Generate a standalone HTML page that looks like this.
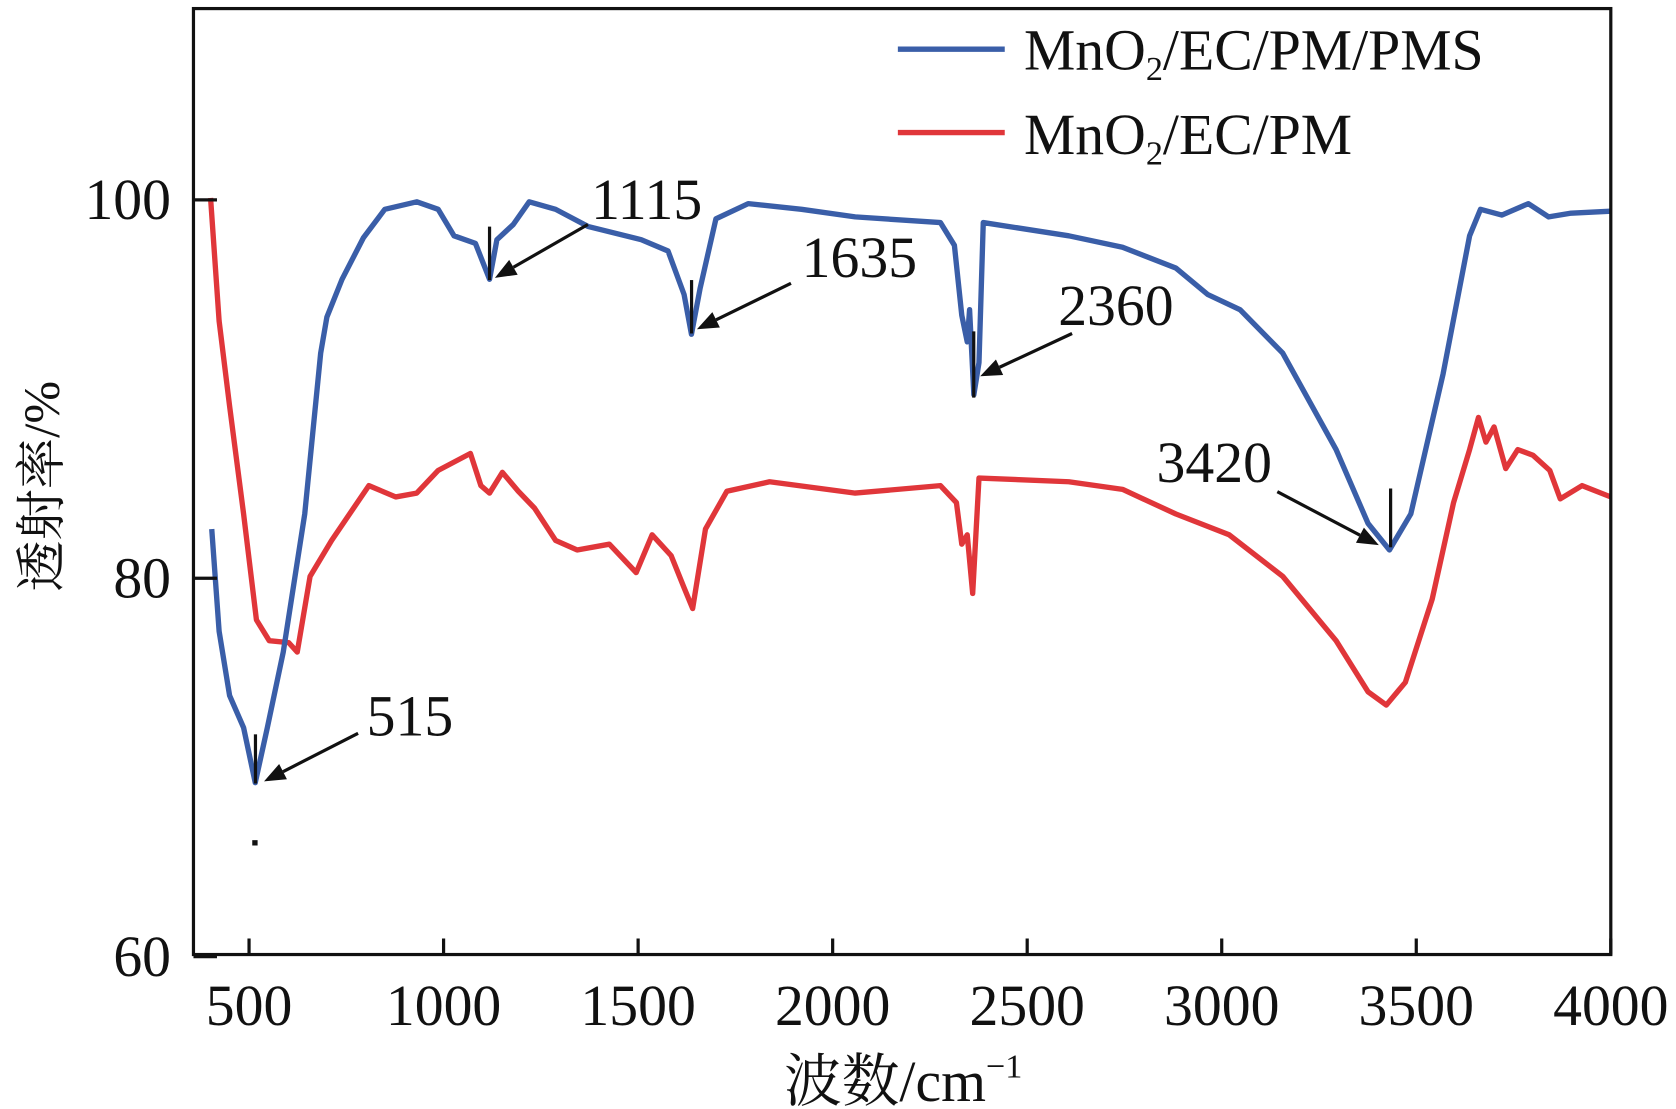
<!DOCTYPE html>
<html><head><meta charset="utf-8"><style>
html,body{margin:0;padding:0;background:#fff;}
svg{display:block;}
text{font-family:"Liberation Serif","Noto Serif CJK SC",serif;fill:#111;}
</style></head><body>
<svg id="chart" width="1676" height="1109" viewBox="0 0 1568 1037.5" xmlns="http://www.w3.org/2000/svg">
<g id="plot"></g>
</svg>
<script>
const xTicks=[500,1000,1500,2000,2500,3000,3500,4000];
const yTicks=[60,80,100];
const blueX=[404,423,450,486,516,547,588,643,684,700,739,794,849,931,986,1027,1082,1118,1137,1179,1220,1288,1371,1508,1577,1618,1637,1659,1700,1783,1920,2058,2277,2313,2332,2346,2352,2363,2376,2387,2607,2745,2882,2964,3047,3157,3294,3376,3431,3486,3569,3637,3665,3720,3788,3840,3898,4000];
const blueY=[82.6,77.2,73.8,72.1,69.2,72.1,76.1,83.4,91.9,93.8,95.8,98.0,99.5,99.9,99.5,98.1,97.7,95.8,97.9,98.7,99.9,99.5,98.6,97.9,97.3,95.0,92.9,95.3,99.0,99.8,99.5,99.1,98.8,97.6,93.9,92.5,94.2,89.7,91.4,98.8,98.1,97.5,96.4,95.0,94.2,91.9,86.8,82.9,81.5,83.4,90.8,98.1,99.5,99.2,99.8,99.1,99.3,99.4];
const redX=[401,423,450,486,519,552,602,624,657,712,808,877,931,986,1069,1096,1118,1151,1192,1234,1288,1343,1426,1495,1536,1585,1618,1640,1673,1728,1838,2058,2277,2318,2332,2346,2360,2376,2607,2745,2882,3019,3157,3294,3376,3423,3472,3541,3596,3637,3660,3679,3700,3730,3761,3800,3843,3870,3926,4000];
const redY=[100.1,93.6,89.1,83.4,77.8,76.7,76.6,76.1,80.1,82.0,84.9,84.3,84.5,85.7,86.6,84.9,84.5,85.6,84.6,83.7,82.0,81.5,81.8,80.3,82.3,81.2,79.5,78.4,82.6,84.6,85.1,84.5,84.9,84.0,81.8,82.3,79.2,85.3,85.1,84.7,83.4,82.3,80.1,76.7,74.0,73.3,74.5,78.9,84.0,86.8,88.5,87.2,88.0,85.8,86.8,86.5,85.7,84.2,84.9,84.3];
const peakLabels=["515","1115","1635","2360","3420"];

const X=v=>233+(v-500)*0.364;
const Y=v=>187+(100-v)*17.7;
const NS="http://www.w3.org/2000/svg";
const g=document.getElementById('plot');
function mk(t,a,txt){const e=document.createElementNS(NS,t);for(const k in a)e.setAttribute(k,a[k]);if(txt!==undefined)e.textContent=txt;g.appendChild(e);return e;}

function series(xs,ys,col,name){
  const d=xs.map((x,i)=>(i?'L':'M')+X(x).toFixed(1)+','+Y(ys[i]).toFixed(1)).join('');
  const p=mk('path',{d:d,fill:'none',stroke:col,'stroke-width':5,'stroke-linejoin':'round'});
  
  
}
series(redX,redY,'#e0363a','series-mno2-ec-pm');
series(blueX,blueY,'#3a5ea8','series-mno2-ec-pm-pms');

const fr=mk('rect',{x:181,y:8,width:1326,height:885,fill:'none',stroke:'#111','stroke-width':3});



xTicks.forEach(v=>{
  const l=mk('line',{x1:X(v),x2:X(v),y1:893,y2:878,stroke:'#111','stroke-width':3});
  
  
  const t=mk('text',{x:X(v),y:959,'font-size':54,'text-anchor':'middle'},String(v));
  
  
});
yTicks.forEach(v=>{
  const l=mk('line',{x1:181,x2:203,y1:Y(v),y2:Y(v),stroke:'#111','stroke-width':3});
  
  
  const t=mk('text',{x:160,y:Y(v)+18,'font-size':54,'text-anchor':'end'},String(v));
  
  
});

const ann=[
 {tick:[239,687,733],arr:[335,686,247,731],lab:[343,688]},
 {tick:[458,212,262],arr:[550,210,463,260],lab:[553,205]},
 {tick:[647,262,312],arr:[740,265,652,308],lab:[750,259]},
 {tick:[911,310,372],arr:[1003,312,917,352],lab:[990,304]},
 {tick:[1301,457,512],arr:[1195,460,1290,510],lab:[1082,451]}
];
ann.forEach((a,i)=>{
  const tk=mk('line',{x1:a.tick[0],x2:a.tick[0],y1:a.tick[1],y2:a.tick[2],stroke:'#111','stroke-width':3});
  
  
  const [x1,y1,x2,y2]=a.arr;
  const ang=Math.atan2(y2-y1,x2-x1),L=20,W=8;
  const bx=x2-L*Math.cos(ang),by=y2-L*Math.sin(ang);
  const ln=mk('line',{x1:x1,y1:y1,x2:bx,y2:by,stroke:'#111','stroke-width':3});
  
  
  const hd=mk('polygon',{points:`${x2},${y2} ${bx+W*Math.sin(ang)},${by-W*Math.cos(ang)} ${bx-W*Math.sin(ang)},${by+W*Math.cos(ang)}`,fill:'#111'});
  
  
  const t=mk('text',{x:a.lab[0],y:a.lab[1],'font-size':54},peakLabels[i]);
  
  
});
const dot=mk('rect',{x:236,y:786,width:5,height:5,fill:'#111'});


</script>
<svg style="position:absolute;left:0;top:0" width="1676" height="1109" viewBox="0 0 1568 1037.5" xmlns="http://www.w3.org/2000/svg">
 <g>
  <line x1="840" x2="940" y1="46" y2="46" stroke="#3a5ea8" stroke-width="5"/>
  <text x="958" y="65" font-size="54">MnO<tspan font-size="32" dy="10">2</tspan><tspan dy="-10">/EC/PM/PMS</tspan></text>
  <line x1="840" x2="940" y1="124" y2="124" stroke="#e0363a" stroke-width="5"/>
  <text x="958" y="144" font-size="54">MnO<tspan font-size="32" dy="10">2</tspan><tspan dy="-10">/EC/PM</tspan></text>
 </g>
 <text x="845" y="1030" font-size="54" text-anchor="middle">波数/cm<tspan font-size="32" dy="-22">−1</tspan></text>
 <text transform="translate(55,455) rotate(-90)" font-size="48" text-anchor="middle">透射率/%</text>
</svg>
</body></html>
